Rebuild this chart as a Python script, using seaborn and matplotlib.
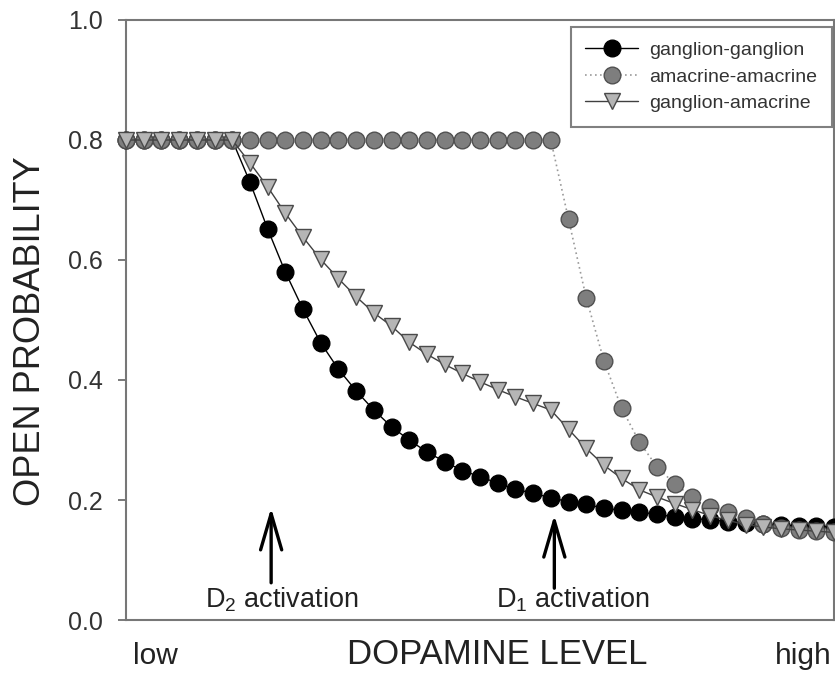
import numpy as np
import pandas as pd
import matplotlib
matplotlib.use("Agg")
import matplotlib.pyplot as plt
import seaborn as sns

# ---- data ----
level = list(range(41))  # dopamine level steps, low -> high

ganglion_ganglion = [0.8] * 7 + [
    0.730, 0.652, 0.580, 0.518, 0.462, 0.418, 0.382, 0.350, 0.322, 0.300,
    0.280, 0.264, 0.249, 0.239, 0.228, 0.218, 0.211, 0.204, 0.197, 0.193,
    0.186, 0.183, 0.180, 0.176, 0.172, 0.169, 0.167, 0.164, 0.162, 0.160,
    0.158, 0.157, 0.156, 0.155]

amacrine_amacrine = [0.8] * 25 + [
    0.668, 0.537, 0.432, 0.353, 0.297, 0.255, 0.227, 0.205, 0.188, 0.180,
    0.170, 0.160, 0.153, 0.150, 0.148, 0.146]

ganglion_amacrine = [0.8] * 7 + [
    0.762, 0.722, 0.678, 0.638, 0.601, 0.569, 0.539, 0.512, 0.490, 0.463,
    0.443, 0.426, 0.411, 0.397, 0.384, 0.372, 0.361, 0.350, 0.318, 0.286,
    0.258, 0.236, 0.217, 0.205, 0.194, 0.184, 0.174, 0.166, 0.159, 0.155,
    0.152, 0.150, 0.148, 0.146]

series_labels = ["ganglion-ganglion", "amacrine-amacrine", "ganglion-amacrine"]
yticks = [0.0, 0.2, 0.4, 0.6, 0.8, 1.0]
d2_level, d1_level = 8.2, 24.2

# ---- style ----
sns.set_style("white")
plt.rcParams["font.family"] = ["Liberation Sans", "DejaVu Sans"]
plt.rcParams["mathtext.fontset"] = "custom"
plt.rcParams["mathtext.rm"] = "Liberation Sans"
plt.rcParams["mathtext.it"] = "Liberation Sans:italic"
plt.rcParams["mathtext.bf"] = "Liberation Sans:bold"

fig = plt.figure(figsize=(8.35, 6.73), dpi=100)
ax = fig.add_axes([126 / 835, 53 / 673, 708 / 835, 600 / 673])

df = pd.DataFrame({"level": level, "gg": ganglion_ganglion,
                   "aa": amacrine_amacrine, "ga": ganglion_amacrine})

sns.lineplot(data=df, x="level", y="gg", ax=ax, color="black", linewidth=1.0,
             marker="o", markersize=12, markerfacecolor="black",
             markeredgecolor="black", markeredgewidth=1.0,
             label=series_labels[0], clip_on=False, zorder=3)
sns.lineplot(data=df, x="level", y="aa", ax=ax, color="#9a9a9a", linewidth=1.2,
             linestyle=(0, (1, 2)),
             marker="o", markersize=12, markerfacecolor="#7e7e7e",
             markeredgecolor="#505050", markeredgewidth=1.0,
             label=series_labels[1], clip_on=False, zorder=4)
sns.lineplot(data=df, x="level", y="ga", ax=ax, color="#404040", linewidth=1.0,
             marker="v", markersize=12, markerfacecolor="#b5b5b5",
             markeredgecolor="#4a4a4a", markeredgewidth=1.0,
             label=series_labels[2], clip_on=False, zorder=5)

ax.set_xlim(0, 40)
ax.set_ylim(0, 1.0)
ax.set_xticks([])
ax.set_yticks(yticks)
ax.set_yticklabels([f"{t:.1f}" for t in yticks])
ax.tick_params(axis="y", direction="out", length=6, width=1.3, colors="#707070",
               labelcolor="#333333", labelsize=18, pad=11, left=True)
for sp in ax.spines.values():
    sp.set_color("#777777")
    sp.set_linewidth(1.5)
    sp.set_visible(True)

ax.set_xlabel("")
ax.set_ylabel("OPEN PROBABILITY", fontsize=26, color="#222222")
ax.yaxis.set_label_coords(-0.135, 0.482)
ax.yaxis.label.set_verticalalignment("center")

ax.text(0.524, -0.074, "DOPAMINE LEVEL", transform=ax.transAxes, ha="center",
        va="baseline", fontsize=25, color="#222222")
ax.text(0.0099, -0.074, "low", transform=ax.transAxes, ha="left",
        va="baseline", fontsize=21.5, color="#222222")
ax.text(0.9167, -0.074, "high", transform=ax.transAxes, ha="left",
        va="baseline", fontsize=21.5, color="#222222", clip_on=False)

# arrows and annotations
arrow_kw = dict(arrowstyle="->,head_length=1.3,head_width=0.38", lw=2.4,
                color="black", mutation_scale=20, shrinkA=0, shrinkB=0)
ax.annotate("", xy=(d2_level, 0.187), xytext=(d2_level, 0.062),
            arrowprops=arrow_kw)
ax.annotate("", xy=(d1_level, 0.175), xytext=(d1_level, 0.053),
            arrowprops=arrow_kw)
ax.text(4.45, 0.02, "D$_2$ activation", ha="left", va="baseline",
        fontsize=19.5, color="#222222")
ax.text(20.9, 0.02, "D$_1$ activation", ha="left", va="baseline",
        fontsize=19.5, color="#222222")

leg = ax.legend(loc="upper right", bbox_to_anchor=(0.9972, 0.9883),
                borderaxespad=0, fontsize=14, handlelength=2.7,
                handletextpad=0.6, borderpad=0.75, labelspacing=0.45,
                fancybox=False, framealpha=1, edgecolor="#808080",
                numpoints=1)
leg.get_frame().set_linewidth(1.5)
for t in leg.get_texts():
    t.set_color("#333333")

fig.savefig("out.png", dpi=100)
